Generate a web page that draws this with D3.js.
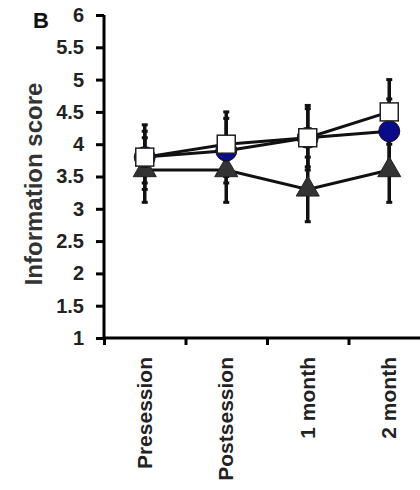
<!DOCTYPE html>
<html>
<head>
<meta charset="utf-8">
<script src="https://cdn.jsdelivr.net/npm/d3@7"></script>
<style>
body { margin: 0; background: #fff; }
text { font-family: "Liberation Sans", Arial, sans-serif; font-weight: bold; }
</style>
</head>
<body>
<div id="chart"></div>
<script>
var categories = ["Presession", "Postsession", "1 month", "2 month"];
var yTicks = [1, 1.5, 2, 2.5, 3, 3.5, 4, 4.5, 5, 5.5, 6];

var squareVals = [3.8, 4.0, 4.1, 4.5];
var squareErr = [0.5, 0.5, 0.5, 0.5];
var circleVals = [3.8, 3.9, 4.1, 4.2];
var circleErr = [0.4, 0.5, 0.45, 0.5];
var triangleVals = [3.6, 3.6, 3.3, 3.6];
var triangleErr = [0.5, 0.5, 0.5, 0.5];

var svg = d3.select("#chart").append("svg").attr("width", 420).attr("height", 490);

var x = d3.scaleBand().domain(categories).range([104, 430]);
var xEdge = d3.scaleLinear().domain([0, 4]).range([104, 430]);
var y = d3.scaleLinear().domain([1, 6]).range([338, 15]);

function cx(d, i) { return x(categories[i]) + x.bandwidth() / 2; }

// axes
var yAxis = d3.axisLeft(y).tickValues(yTicks).tickSize(8).tickPadding(12)
    .tickFormat(function(d){ return d; });
var gy = svg.append("g").attr("transform", "translate(104,0)").call(yAxis);
gy.select(".domain").attr("stroke-width", 3).attr("d", "M0,15V338");
gy.selectAll(".tick line").attr("stroke-width", 3);
gy.selectAll(".tick text").attr("font-size", 20).attr("fill", "#222");

var xAxis = d3.axisBottom(xEdge).tickValues([0, 1, 2, 3]).tickSize(7).tickFormat("");
var gx = svg.append("g").attr("transform", "translate(0,338)").call(xAxis);
gx.select(".domain").attr("stroke-width", 3).attr("d", "M104,0H430");
gx.selectAll(".tick line").attr("stroke-width", 3);

svg.selectAll(".xlabel").data(categories).enter()
    .append("text")
    .attr("class", "xlabel")
    .text(function(d){ return d; })
    .attr("transform", function(d){ return "translate(" + (x(d) + x.bandwidth() / 2 + 7) + ",357) rotate(-90)"; })
    .attr("text-anchor", "end")
    .attr("font-size", 21)
    .attr("fill", "#222");

svg.append("text").text("Information score")
    .attr("transform", "translate(42,184) rotate(-90)")
    .attr("text-anchor", "middle")
    .attr("font-size", 24)
    .attr("fill", "#333");

svg.append("text").text("B")
    .attr("x", 33).attr("y", 28)
    .attr("font-size", 22)
    .attr("fill", "#111");

// error bars
function errorBars(vals, errs) {
    var g = svg.append("g");
    vals.forEach(function(v, i) {
        var px = cx(v, i);
        g.append("line").attr("x1", px).attr("x2", px)
            .attr("y1", y(v - errs[i])).attr("y2", y(v + errs[i]))
            .attr("stroke", "#111").attr("stroke-width", 3.5);
        [v - errs[i], v + errs[i]].forEach(function(e) {
            g.append("line").attr("x1", px - 3).attr("x2", px + 3)
                .attr("y1", y(e)).attr("y2", y(e))
                .attr("stroke", "#111").attr("stroke-width", 3);
        });
    });
}
errorBars(squareVals, squareErr);
errorBars(circleVals, circleErr);
errorBars(triangleVals, triangleErr);

// lines
var line = d3.line().x(cx).y(function(d){ return y(d); });
[triangleVals, circleVals, squareVals].forEach(function(vals) {
    svg.append("path").datum(vals).attr("d", line)
        .attr("fill", "none").attr("stroke", "#111").attr("stroke-width", 3);
});

// markers
svg.selectAll(".tri").data(triangleVals).enter()
    .append("path")
    .attr("d", d3.symbol().type(d3.symbolTriangle).size(230))
    .attr("transform", function(d, i){ return "translate(" + cx(d, i) + "," + y(d) + ")"; })
    .attr("fill", "#333").attr("stroke", "#222").attr("stroke-width", 1);

svg.selectAll(".circ").data(circleVals).enter()
    .append("circle")
    .attr("cx", cx).attr("cy", function(d){ return y(d); })
    .attr("r", 10.5)
    .attr("fill", "#0a0a8c").attr("stroke", "#111").attr("stroke-width", 1);

svg.selectAll(".sq").data(squareVals).enter()
    .append("rect")
    .attr("x", function(d, i){ return cx(d, i) - 9; })
    .attr("y", function(d){ return y(d) - 9; })
    .attr("width", 18).attr("height", 18)
    .attr("fill", "#fff").attr("stroke", "#222").attr("stroke-width", 1.5);
</script>
</body>
</html>
